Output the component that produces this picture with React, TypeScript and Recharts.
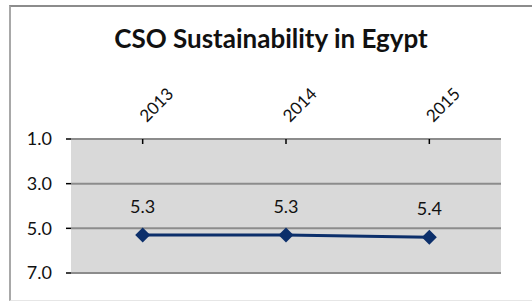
import {
  CartesianGrid,
  LabelList,
  Line,
  LineChart,
  ReferenceArea,
  XAxis,
  YAxis,
} from "recharts";

const years = ["2013", "2014", "2015"];
const scores = [5.3, 5.3, 5.4];
const yTicks = [1, 3, 5, 7];

const data = years.map((year, i) => ({ year, score: scores[i] }));

const FONT = "Lato, 'Open Sans', sans-serif";
const NAVY = "#0c2f6b";
const INK = "#111111";

/** year label: small inward tick + text rotated 45deg */
const YearTick = ({ x, y, payload }: any) => (
  <g>
    <line x1={x} y1={y} x2={x} y2={y + 5} stroke="#000" strokeWidth={1.5} />
    <text
      x={x + 4}
      y={y - 16}
      transform={`rotate(-45 ${x + 4} ${y - 16})`}
      fontSize={17}
      fill={INK}
      fontFamily={FONT}
    >
      {payload.value}
    </text>
  </g>
);

const Diamond = ({ cx, cy, index }: any) => (
  <path
    key={index}
    d={`M${cx},${cy - 7.5}L${cx + 7.5},${cy}L${cx},${cy + 7.5}L${cx - 7.5},${cy}Z`}
    fill={NAVY}
  />
);

export default function App() {
  return (
    <div
      style={{
        position: "absolute",
        left: 0,
        top: 0,
        width: 532,
        height: 302,
        overflow: "hidden",
        background: "#fff",
        fontFamily: FONT,
      }}
    >
      {/* outer frame, cut off on the right */}
      <div
        style={{
          position: "absolute",
          left: 9,
          top: 5,
          width: 540,
          height: 296,
          boxSizing: "border-box",
          borderTop: "2px solid #8c8c8c",
          borderLeft: "2px solid #a8a8a8",
          borderBottom: "1px solid #e6e6e6",
        }}
      />
      <div
        style={{
          position: "absolute",
          left: 10,
          width: 522,
          top: 22,
          textAlign: "center",
          fontSize: 26,
          fontWeight: 700,
          color: INK,
        }}
      >
        CSO Sustainability in Egypt
      </div>
      <div style={{ position: "absolute", left: 0, top: 0 }}>
        <LineChart
          width={532}
          height={302}
          data={data}
          margin={{ top: 0, right: 31, bottom: 29, left: 0 }}
        >
          <CartesianGrid
            vertical={false}
            fill="#d9d9d9"
            stroke="#8c8c8c"
            strokeWidth={2}
          />
          <ReferenceArea fill="none" stroke="#000" strokeWidth={2} />
          <XAxis
            dataKey="year"
            orientation="top"
            scale="band"
            height={139}
            axisLine={false}
            tickLine={false}
            tickSize={0}
            tickMargin={0}
            interval={0}
            tick={<YearTick />}
          />
          <YAxis
            domain={[1, 7]}
            ticks={yTicks}
            reversed
            width={71}
            axisLine={false}
            tickLine={{ stroke: "#000", strokeWidth: 1.5 }}
            tickSize={5}
            tickMargin={14}
            tickFormatter={(v) => v.toFixed(1)}
            tick={{ fontSize: 18, fill: INK, fontFamily: FONT }}
          />
          <Line
            type="linear"
            dataKey="score"
            stroke={NAVY}
            strokeWidth={3}
            dot={<Diamond />}
            activeDot={false}
            isAnimationActive={false}
          >
            <LabelList
              dataKey="score"
              position="top"
              offset={22}
              fontSize={18}
              fill={INK}
              fontFamily={FONT}
              formatter={(v: any) => Number(v).toFixed(1)}
            />
          </Line>
        </LineChart>
      </div>
    </div>
  );
}
